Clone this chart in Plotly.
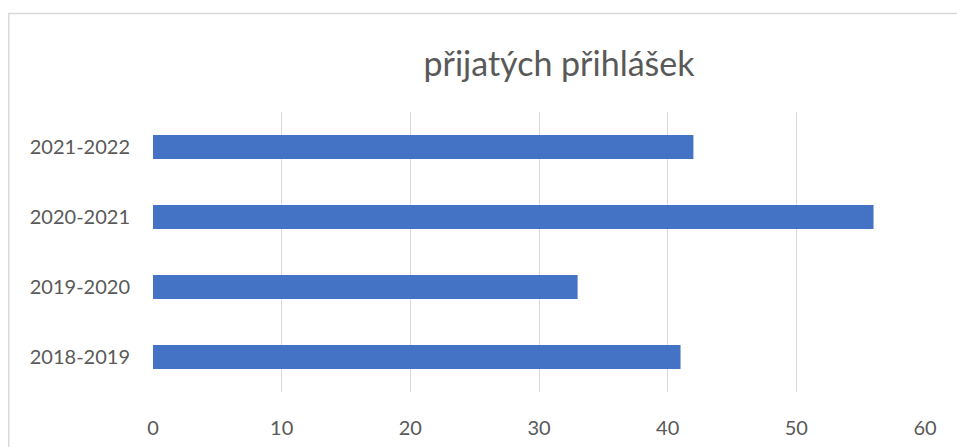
import plotly.graph_objects as go

categories = ["2018-2019", "2019-2020", "2020-2021", "2021-2022"]
values = [41, 33, 56, 42]
x_ticks = [0, 10, 20, 30, 40, 50, 60]
title_text = "přijatých přihlášek"

FONT = "Lato"
GRAY = "#595959"

W, H = 957, 447
L, R, T, B = 153, 32, 112, 55
PW, PH = W - L - R, H - T - B  # 772 x 280


def px_x(x):  # screen px -> paper
    return (x - L) / PW


def px_y(y):
    return (H - B - y) / PH


fig = go.Figure(go.Bar(
    y=categories, x=values, orientation="h",
    marker=dict(color="#4472C4", line=dict(width=0)),
))

fig.update_layout(
    width=W, height=H,
    margin=dict(l=L, r=R, t=T, b=B),
    paper_bgcolor="white", plot_bgcolor="white",
    bargap=0.657,
    showlegend=False,
    title=dict(text=title_text, xref="container", yref="container",
               x=559 / W, y=1 - 64 / H, xanchor="center", yanchor="middle",
               font=dict(family=FONT, size=34, color=GRAY)),
    xaxis=dict(range=[0, 60], tickvals=x_ticks, showgrid=True,
               gridcolor="#d9d9d9", gridwidth=1, zeroline=False, showline=False,
               ticks="outside", ticklen=18, tickcolor="rgba(0,0,0,0)",
               automargin=False,
               tickfont=dict(family=FONT, size=20, color=GRAY)),
    yaxis=dict(showgrid=False, zeroline=False, showline=False,
               ticks="outside", ticklen=18, tickcolor="rgba(0,0,0,0)",
               automargin=False,
               tickfont=dict(family=FONT, size=20, color=GRAY)),
    shapes=[
        dict(type="line", xref="paper", yref="paper",
             x0=px_x(8), x1=px_x(1000), y0=px_y(13.5), y1=px_y(13.5),
             line=dict(color="#d9d9d9", width=1.5)),
        dict(type="line", xref="paper", yref="paper",
             x0=px_x(8.8), x1=px_x(8.8), y0=px_y(13.5), y1=px_y(500),
             line=dict(color="#d9d9d9", width=1.5)),
    ],
)

fig.write_html(
    "out.html",
    config={"displayModeBar": False},
    post_script="document.body.style.margin='0';document.body.style.overflow='hidden';",
)
